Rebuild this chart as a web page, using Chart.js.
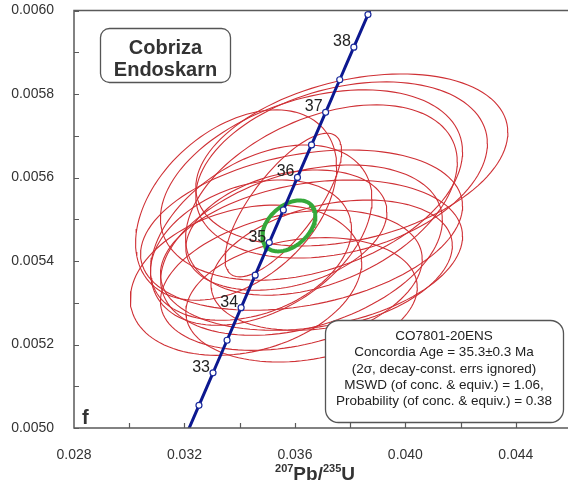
<!DOCTYPE html>
<html>
<head>
<meta charset="utf-8">
<script src="https://cdn.jsdelivr.net/npm/chart.js@4.4.1/dist/chart.umd.min.js"></script>
<style>
html,body{margin:0;padding:0;background:#fff;}
#wrap{width:568px;height:484px;position:relative;}
</style>
</head>
<body>
<div id="wrap"><canvas id="myChart"></canvas></div>
<script>
// decay constants, 1/Ma
const L238 = 1.55125e-4;
const L235 = 9.8485e-4;

// concordia: marked ages and labelled ages (Ma)
const markerAges = [32.5,33,33.5,34,34.5,35,35.5,36,36.5,37,37.5,38,38.5];
const labelAges = [33,34,35,36,37,38];

// analyses: 207Pb/235U, 2s, 206Pb/238U, 2s, rho
const r75 = [0.03806,0.03769,0.03558,0.03423,0.03624,0.03660,0.03478,0.03387,0.03587,0.03696,0.03624,0.03624,0.03733,0.03441,0.03569,0.03660];
const s75 = [0.00565,0.00528,0.00211,0.00419,0.00583,0.00547,0.00401,0.00364,0.00474,0.00492,0.00510,0.00419,0.00437,0.00364,0.00364,0.00547];
const r68 = [0.005642,0.005618,0.005534,0.005354,0.005474,0.005414,0.005462,0.005534,0.005354,0.005546,0.005426,0.005307,0.005390,0.005426,0.005474,0.005582];
const s68 = [0.000206,0.000211,0.000172,0.000180,0.000192,0.000180,0.000216,0.000228,0.000168,0.000228,0.000204,0.000149,0.000156,0.000168,0.000144,0.000228];
const rho = [0.32,0.30,0.75,0.25,0.30,0.25,0.40,0.40,0.30,0.40,0.35,0.20,0.30,0.30,0.30,0.35];

// concordia age ellipse: x, 2s, y, 2s, rho
const ageEllipse = [0.03578,0.00096,0.005484,0.000061,0.40];

const xTicks = [0.028,0.032,0.036,0.040,0.044];
const yTicks = [0.0050,0.0052,0.0054,0.0056,0.0058,0.0060];

function concordia(t){
  return {x: Math.exp(L235*t)-1, y: Math.exp(L238*t)-1};
}

function ellipse(x, sx, y, sy, r){
  const pts = [];
  const k = Math.sqrt(1-r*r);
  for(let i=0;i<=120;i++){
    const a = i/120*2*Math.PI;
    pts.push({x: x+sx*Math.cos(a), y: y+sy*(r*Math.cos(a)+k*Math.sin(a))});
  }
  return pts;
}

const curve = [];
for(let t=31; t<=40.001; t+=0.1) curve.push(concordia(t));

const datasets = [];
datasets.push({
  data: markerAges.map(concordia),
  showLine:false, pointRadius:3, pointBorderWidth:1.2,
  pointBackgroundColor:'#fff', pointBorderColor:'#1a2a9c', order:0
});
datasets.push({
  data: curve, showLine:true, pointRadius:0,
  borderColor:'#0c1890', borderWidth:3, order:1
});
datasets.push({
  data: ellipse(...ageEllipse), showLine:true, pointRadius:0,
  borderColor:'#35a83a', borderWidth:4, order:2
});
r75.forEach((v,i)=>{
  datasets.push({
    data: ellipse(v, s75[i], r68[i], s68[i], rho[i]), showLine:true, pointRadius:0,
    borderColor:'#cf3035', borderWidth:1.1, order:3
  });
});

const deco = {
  id:'deco',
  afterDraw(chart){
    const {ctx, chartArea:a, scales:{x,y}} = chart;
    ctx.save();
    // frame
    ctx.strokeStyle='#5a5a5a'; ctx.lineWidth=1.5;
    ctx.beginPath();
    ctx.moveTo(chart.width,a.top); ctx.lineTo(a.left,a.top);
    ctx.lineTo(a.left,a.bottom); ctx.lineTo(chart.width,a.bottom);
    ctx.stroke();
    // inward tick marks
    ctx.lineWidth=1.2;
    ctx.beginPath();
    y.ticks.forEach(t=>{
      const py = Math.round(y.getPixelForValue(t.value))+0.5;
      ctx.moveTo(a.left,py); ctx.lineTo(a.left+5,py);
    });
    x.ticks.forEach(t=>{
      if(t.value<=x.min) return;
      const px = Math.round(x.getPixelForValue(t.value))+0.5;
      ctx.moveTo(px,a.bottom); ctx.lineTo(px,a.bottom-5);
    });
    ctx.stroke();

    // age labels
    ctx.fillStyle='#222'; ctx.font='16px "Liberation Sans", Arial, sans-serif';
    ctx.textAlign='right'; ctx.textBaseline='alphabetic';
    labelAges.forEach(t=>{
      const p = concordia(t);
      ctx.fillText(String(t), x.getPixelForValue(p.x)-3, y.getPixelForValue(p.y)-1);
    });

    // sample name box
    ctx.beginPath(); ctx.roundRect(100.5,28.5,130,54,9);
    ctx.fillStyle='#fff'; ctx.fill();
    ctx.strokeStyle='#555'; ctx.lineWidth=1.3; ctx.stroke();
    ctx.fillStyle='#333'; ctx.textAlign='center';
    ctx.font='bold 20px "Liberation Sans", Arial, sans-serif';
    ctx.fillText('Cobriza',165.5,54);
    ctx.fillText('Endoskarn',165.5,76);

    // result box
    ctx.beginPath(); ctx.roundRect(325.5,320.5,238,102,13);
    ctx.fillStyle='#fff'; ctx.fill();
    ctx.strokeStyle='#555'; ctx.lineWidth=1.3; ctx.stroke();
    ctx.fillStyle='#222';
    ctx.font='13.5px "Liberation Sans", Arial, sans-serif';
    const lines = ['CO7801-20ENS','Concordia Age = 35.3\u00b10.3 Ma','(2\u03c3, decay-const. errs ignored)',
      'MSWD (of conc. & equiv.) = 1.06,','Probability (of conc. & equiv.) = 0.38'];
    lines.forEach((s,i)=>ctx.fillText(s,444,340+i*16.3));

    // panel letter
    ctx.textAlign='left'; ctx.fillStyle='#333';
    ctx.font='bold 20px "Liberation Sans", Arial, sans-serif';
    ctx.fillText('f',82,424);

    // x axis title
    const big='bold 19px "Liberation Sans", Arial, sans-serif';
    const sm='bold 11px "Liberation Sans", Arial, sans-serif';
    const parts=[['207',sm,-8],['Pb/',big,0],['235',sm,-8],['U',big,0]];
    let w=0;
    parts.forEach(p=>{ctx.font=p[1]; w+=ctx.measureText(p[0]).width;});
    let cx=315-w/2;
    parts.forEach(p=>{ctx.font=p[1]; ctx.fillText(p[0],cx,480+p[2]); cx+=ctx.measureText(p[0]).width;});
    ctx.restore();
  }
};

const font = {family:'"Liberation Sans", Arial, sans-serif', size:14};

new Chart(document.getElementById('myChart'), {
  type:'scatter',
  data:{datasets},
  options:{
    responsive:true, maintainAspectRatio:false, animation:false,
    layout:{padding:{top:10.5,right:0,left:0,bottom:0}},
    plugins:{legend:{display:false}, tooltip:{enabled:false}},
    scales:{
      x:{
        type:'linear', min:0.028, max:0.0457,
        grid:{display:false}, border:{display:false},
        afterBuildTicks(s){
          s.ticks = [];
          for(let i=0;i<=8;i++) s.ticks.push({value: +(0.028+i*0.002).toFixed(3)});
        },
        afterFit(s){s.height=56; s.paddingLeft=0; s.paddingRight=0;},
        ticks:{
          padding:11, color:'#333', maxRotation:0, autoSkip:false, font,
          callback(v){const m=xTicks.find(t=>Math.abs(t-v)<1e-7); return m!==undefined?m.toFixed(3):'';}
        }
      },
      y:{
        type:'linear', min:0.0050, max:0.0060,
        grid:{display:false}, border:{display:false},
        afterBuildTicks(s){
          s.ticks = [];
          for(let i=0;i<=10;i++) s.ticks.push({value: +(0.005+i*0.0001).toFixed(4)});
        },
        afterFit(s){s.width=74; s.paddingTop=0; s.paddingBottom=0;},
        ticks:{
          padding:12, color:'#333', autoSkip:false, font,
          callback(v){const m=yTicks.find(t=>Math.abs(t-v)<1e-9); return m!==undefined?m.toFixed(4):'';}
        }
      }
    }
  },
  plugins:[deco]
});
</script>
</body>
</html>
